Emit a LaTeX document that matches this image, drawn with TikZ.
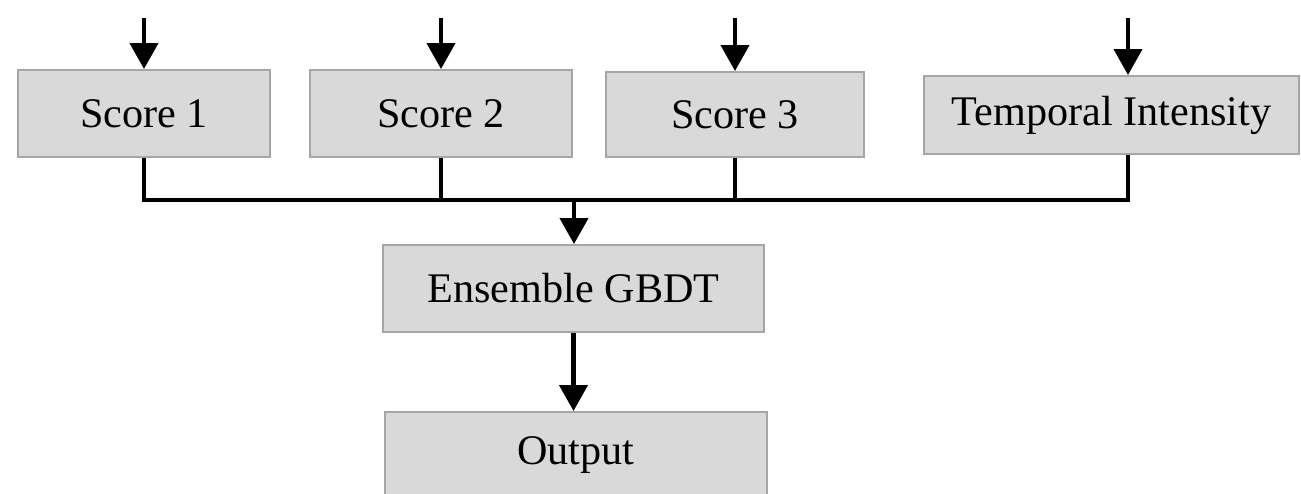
\documentclass[tikz,border=0pt]{standalone}
\usepackage{fontspec}
\setmainfont{Liberation Serif}
\usetikzlibrary{arrows.meta}

\definecolor{boxfill}{HTML}{D9D9D9}
\definecolor{boxline}{HTML}{A6A6A6}

\begin{document}
\begin{tikzpicture}[box/.style={draw=boxline, line width=1.1pt, fill=boxfill, inner sep=0pt, minimum height=1.74cm, font=\fontsize{24}{28}\selectfont},
  wire/.style={line width=2.4pt},
  arr/.style={wire, -{Triangle[width=0.56cm, length=0.52cm]}}]
\useasboundingbox (0,0) rectangle (26.02,9.86);
\node[box, minimum width=5.04cm] (S1) at (2.88,7.59) {Score 1};
\node[box, minimum width=5.24cm] (S2) at (8.82,7.59) {Score 2};
\node[box, minimum width=5.16cm, minimum height=1.70cm] (S3) at (14.70,7.57) {Score 3};
\node[box, minimum width=7.50cm, minimum height=1.56cm] (S4) at (22.23,7.56) {Temporal Intensity};
\node[box, minimum width=7.62cm] (E) at (11.47,4.09) {Ensemble GBDT};
\node[box, minimum width=7.64cm] (O) at (11.52,0.75) {Output};
\coordinate (I1) at (2.88,9.50);
\coordinate (I2) at (8.82,9.50);
\coordinate (I3) at (14.70,9.50);
\coordinate (I4) at (22.56,9.50);
\coordinate (J) at (11.48,5.86);
\draw[arr] (I1) -- (S1.north);
\draw[arr] (I2) -- (S2.north);
\draw[arr] (I3) -- (S3.north);
\draw[arr] (I4) -- (I4 |- S4.north);
\draw[wire] (S1.south) |- (J);
\draw[wire] (I4 |- S4.south) |- (J);
\draw[wire] (S2.south) -- (S2.south |- J);
\draw[wire] (S3.south) -- (S3.south |- J);
\draw[arr] (J) -- (J |- E.north);
\draw[arr] (E.south) -- (E.south |- O.north);
\end{tikzpicture}
\end{document}
